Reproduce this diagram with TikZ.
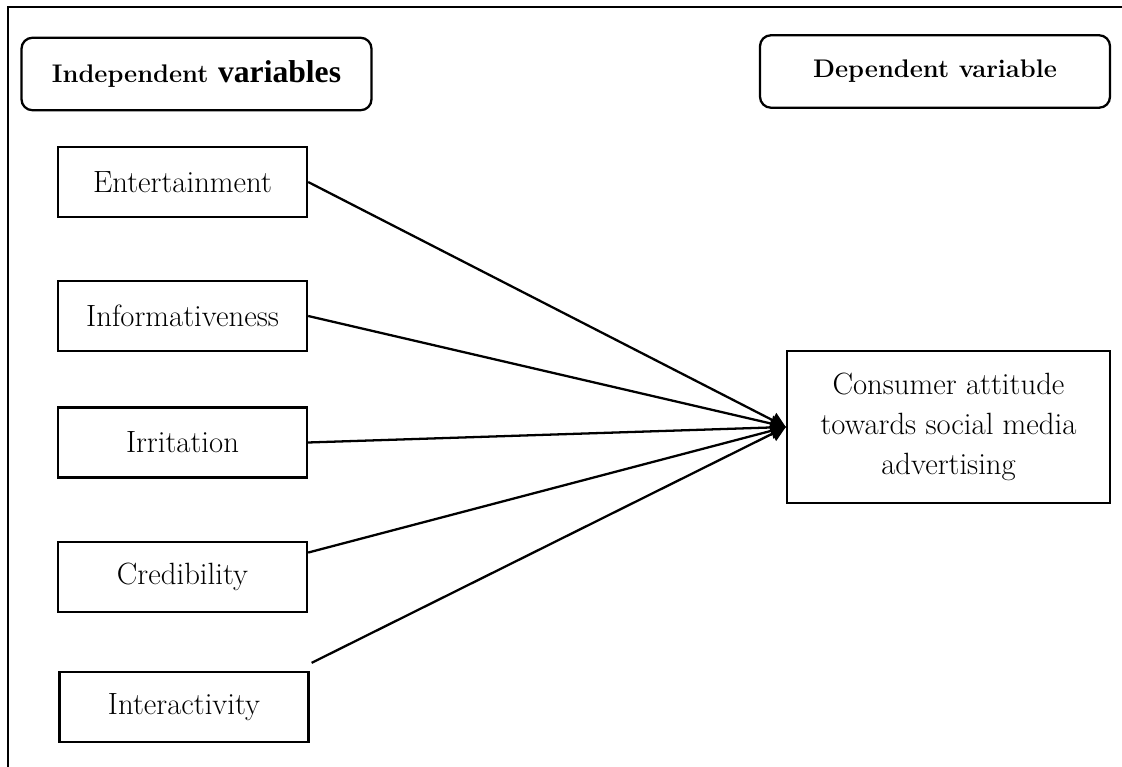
\documentclass[tikz,border=0pt]{standalone}
\usepackage{fontspec}
\usepackage{tikz}
\newfontfamily\timesbold{Liberation Serif}
\usetikzlibrary{positioning,arrows.meta}
\definecolor{ln}{RGB}{0, 0, 0}
\def\boxh{1.4cm}
\def\boxw{4.98cm}
\tikzset{
	varbox/.style={draw=ln,rectangle,line width=1.3pt,minimum height=\boxh,minimum width=\boxw,inner sep=0cm,font=\fontsize{17.5}{21}\selectfont},
	headbox/.style={draw=ln,rectangle,rounded corners=0.22cm,line width=1.3pt,minimum height=1.45cm,minimum width=7cm,font=\fontsize{14.5}{17}\selectfont\bfseries},
	link/.style={-{Triangle[length=0.3cm,width=0.32cm]},color=ln,line width=1.3pt}
}

\begin{document}
\begin{tikzpicture}
\useasboundingbox (0,0) rectangle (22.44,15.34);
% frame
\draw[line width=1.3pt] (0.16,0) -- (0.16,15.2) -- (22.44,15.2);

\node[headbox] (indep) at (3.93,13.86) {Independent {\timesbold\fontsize{18}{20}\selectfont variables}};
\node[headbox] (dep) at (18.7,13.91) {Dependent variable};

\node[varbox] (ent) at (3.65,11.7) {Entertainment};
\node[varbox] (info) at (3.65,9.02) {Informativeness};
\node[varbox] (irr) at (3.65,6.49) {Irritation};
\node[varbox] (cred) at (3.65,3.8) {Credibility};
\node[varbox] (inter) at (3.68,1.2) {Interactivity};

\node[draw=ln,rectangle,line width=1.3pt,minimum height=3.04cm,minimum width=6.46cm,align=center,font=\fontsize{17.5}{22.8}\selectfont] (att) at (18.97,6.8) {Consumer attitude\\towards social media\\advertising};

\draw[link] (ent.east) --  (att.west);
\draw[link] (info.east) --  (att.west);
\draw[link] (irr.east) --  (att.west);
\draw[link] (cred.11) --  (att.west);
\draw[link] ([shift={(0.04,0.16)}]inter.north east) --  (att.west);
\end{tikzpicture}
\end{document}
